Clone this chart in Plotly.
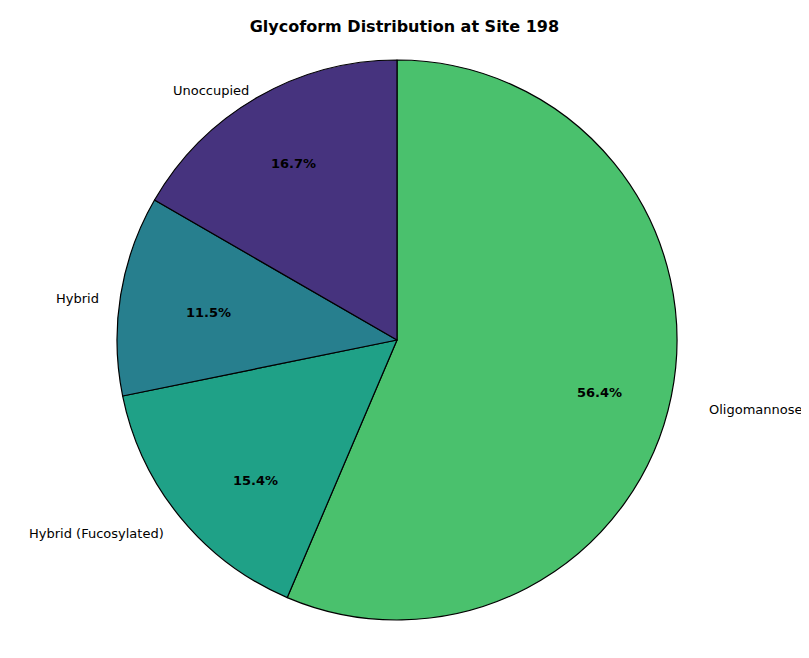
import numpy as np
import plotly.graph_objects as go

labels = ["Unoccupied", "Hybrid", "Hybrid (Fucosylated)", "Oligomannose"]
counts = [13, 9, 12, 44]
colors = ["#46337E", "#277F8E", "#1FA187", "#4AC16D"]

W, H = 809, 658
cx, cy, r = 397, 340, 280
dx, dy = -8, -8  # correct plotly's own offset of the pie

# matplotlib draws counterclockwise from 12 o'clock; same as clockwise with the order reversed
fig = go.Figure(go.Pie(
    labels=labels[::-1], values=counts[::-1], sort=False, direction="clockwise",
    rotation=0, textinfo="none", hoverinfo="label+percent",
    marker=dict(colors=colors[::-1], line=dict(color="black", width=1.2)),
    domain=dict(x=[(cx + dx - r) / W, (cx + dx + r) / W],
                y=[1 - (cy + dy + r) / H, 1 - (cy + dy - r) / H]),
    showlegend=False,
))

# labels and percentages placed like matplotlib's labeldistance / pctdistance
total = sum(counts)
start = 90.0
for lab, c in zip(labels, counts):
    span = 360.0 * c / total
    mid = np.radians(start + span / 2)
    start += span
    lx, ly = cx + 1.1 * r * np.cos(mid), cy - 1.1 * r * np.sin(mid)
    fig.add_annotation(x=lx / W, y=1 - ly / H, xref="paper", yref="paper", text=lab,
                       showarrow=False, xanchor="right" if np.cos(mid) < 0 else "left",
                       font=dict(size=13, color="black"))
    px_, py_ = cx + 0.8 * r * np.cos(mid), cy - 0.8 * r * np.sin(mid)
    fig.add_annotation(x=px_ / W, y=1 - py_ / H, xref="paper", yref="paper",
                       text=f"<b>{100 * c / total:.1f}%</b>", showarrow=False,
                       font=dict(size=13, color="black"))

fig.update_layout(
    width=W, height=H, margin=dict(l=0, r=0, t=0, b=0),
    paper_bgcolor="white", plot_bgcolor="white",
    font=dict(family="DejaVu Sans"),
    title=dict(text="<b>Glycoform Distribution at Site 198</b>", x=0.49, xanchor="center",
               y=1 - 18 / H, yanchor="middle", font=dict(size=16, color="black")),
)

fig.write_html("out.html")
